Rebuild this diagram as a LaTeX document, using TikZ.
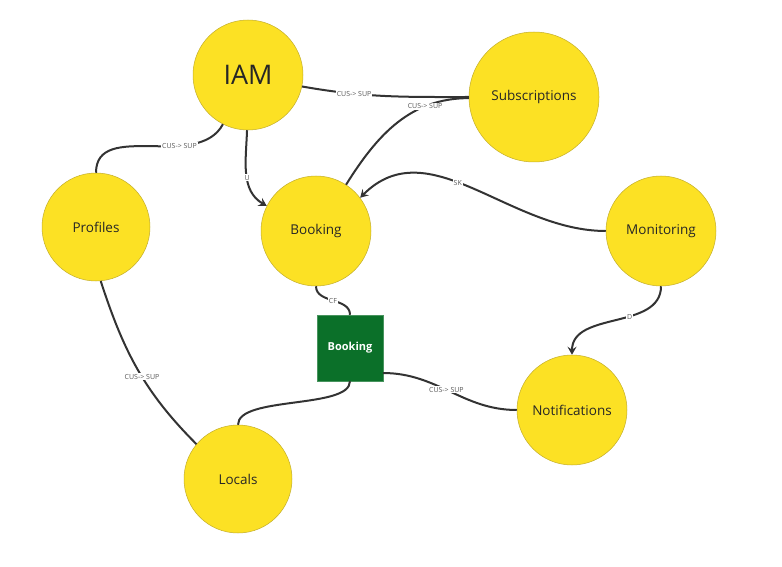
\documentclass[tikz,border=0pt]{standalone}
\usepackage{fontspec}
\setmainfont{Open Sans}
\usetikzlibrary{arrows.meta}

\definecolor{svcfill}{HTML}{FCE124}
\definecolor{svcedge}{HTML}{C2AD2A}
\definecolor{dbgreen}{HTML}{0B7029}
\definecolor{wirecol}{HTML}{333333}

\tikzset{
  svc/.style={circle,fill=svcfill,draw=svcedge,line width=.5pt,minimum size=110pt,inner sep=0pt,
    text=black!85,font=\fontsize{13.5}{16}\selectfont},
  store/.style={rectangle,fill=dbgreen,draw=dbgreen!75!white,minimum size=66pt,inner sep=0pt,
    text=white,font=\fontsize{11}{13}\selectfont\bfseries},
  wire/.style={draw=wirecol,line width=2pt},
  arr/.style={-{Stealth[length=8pt,width=9pt,inset=3pt]}},
  lbl/.style={fill=white,inner sep=1pt,text=black!65,font=\fontsize{7}{8}\selectfont}
}

\begin{document}
\begin{tikzpicture}[x=1pt,y=1pt]
      \useasboundingbox (0,0) rectangle (782,-567);

      \node [svc,font=\fontsize{27}{30}\selectfont] (iam) at (248,-75) {IAM};
      \node [svc,minimum size=130pt] (subs) at (534,-97) {Subscriptions};
      \node [svc,minimum size=108pt] (prof) at (96,-227) {Profiles};
      \node [svc] (bookc) at (316,-231) {Booking};
      \node [svc] (mon) at (661,-231) {Monitoring};
      \node [store] (books) at (350,-348) {Booking};
      \node [svc] (notif) at (572,-410) {Notifications};
      \node [svc,minimum size=108pt] (loc) at (238,-479) {Locals};

      % plain links
      \foreach \from/\fa/\to/\ta/\o/\i/\t/\p in {
          iam/-12/subs/180/-10/180/CUS-> SUP/.3,
          subs/181/bookc/57/180/58/CUS-> SUP/.28,
          iam/-117/prof/90/-118/90/CUS-> SUP/.33,
          bookc/-90/books/90/-90/90/CF/.5,
          books/-37/notif/180/0/180/CUS-> SUP/.47,
          prof/-85/loc/140/-72/135/CUS-> SUP/.55}
        \draw [wire] (\from.\fa) to[out=\o,in=\i] node[lbl,pos=\p] {\t} (\to.\ta);
      \draw [wire] (books.south) .. controls +(0,-28) and +(0,29) .. (loc.north);

      % links with a direction
      \foreach \from/\fa/\to/\ta/\o/\i/\t/\p in {
          iam/-91/bookc/153/-92/150/U/.55,
          mon/180/bookc/37/180/45/SK/.56,
          mon/-90/notif/90/-90/90/D/.4}
        \draw [wire,arr] (\from.\fa) to[out=\o,in=\i] node[lbl,pos=\p] {\t} (\to.\ta);
\end{tikzpicture}
\end{document}
